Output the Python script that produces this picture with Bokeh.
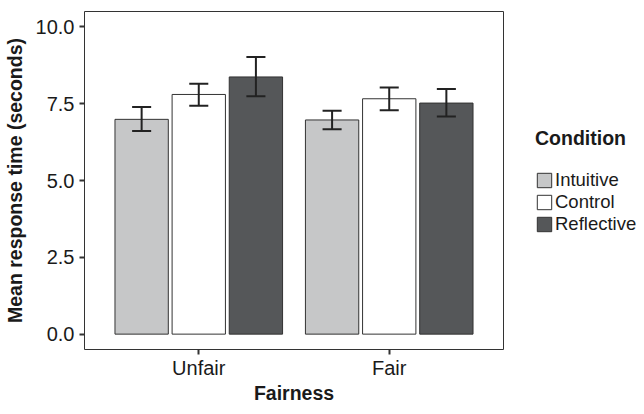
from bokeh.plotting import figure
from bokeh.layouts import row
from bokeh.models import (ColumnDataSource, FactorRange, Range1d, FixedTicker,
                          NumeralTickFormatter, Legend, LegendItem)
from bokeh.transform import dodge
from bokeh.embed import file_html
from bokeh.resources import INLINE

fairness = ["Unfair", "Fair"]
conditions = ["Intuitive", "Control", "Reflective"]
intuitive_mean = [6.99, 6.97]
intuitive_low = [6.61, 6.67]
intuitive_high = [7.39, 7.27]
control_mean = [7.80, 7.66]
control_low = [7.43, 7.29]
control_high = [8.15, 8.03]
reflective_mean = [8.37, 7.52]
reflective_low = [7.74, 7.08]
reflective_high = [9.02, 7.98]
y_ticks = [0, 2.5, 5, 7.5, 10]

series = [
    ("Intuitive", intuitive_mean, intuitive_low, intuitive_high, "#c6c7c8", -0.3),
    ("Control", control_mean, control_low, control_high, "#ffffff", 0.0),
    ("Reflective", reflective_mean, reflective_low, reflective_high, "#555759", 0.3),
]

FONT = "Liberation Sans"
TXT = "#1a1a1a"

p = figure(width=504, height=406,
           x_range=FactorRange(*fairness, range_padding=0.1, range_padding_units="absolute"),
           y_range=Range1d(-0.5, 10.5),
           output_backend="svg", toolbar_location=None,
           min_border_left=84, min_border_right=1, min_border_top=11, min_border_bottom=54)

sources = []
for name, m, lo, hi, color, off in series:
    src = ColumnDataSource(dict(f=fairness, m=m, lo=lo, hi=hi))
    sources.append(src)
    p.vbar(x=dodge("f", off, range=p.x_range), top="m", bottom=0, width=0.28, source=src,
           fill_color=color, line_color="#333333", line_width=1)
for (name, m, lo, hi, color, off), src in zip(series, sources):
    p.segment(x0=dodge("f", off, range=p.x_range), x1=dodge("f", off, range=p.x_range),
              y0="lo", y1="hi", source=src, line_color="#222222", line_width=2)
    p.segment(x0=dodge("f", off - 0.05, range=p.x_range), x1=dodge("f", off + 0.05, range=p.x_range),
              y0="lo", y1="lo", source=src, line_color="#222222", line_width=2)
    p.segment(x0=dodge("f", off - 0.05, range=p.x_range), x1=dodge("f", off + 0.05, range=p.x_range),
              y0="hi", y1="hi", source=src, line_color="#222222", line_width=2)

p.xgrid.visible = False
p.ygrid.visible = False
p.outline_line_color = "#333333"
p.outline_line_width = 1
p.background_fill_color = "white"

for ax in (p.xaxis[0], p.yaxis[0]):
    ax.axis_line_color = None
    ax.major_tick_line_color = "#333333"
    ax.major_tick_line_width = 2
    ax.major_tick_out = 5
    ax.major_tick_in = 0
    ax.minor_tick_line_color = None
    ax.major_label_text_font = FONT
    ax.major_label_text_font_size = "20px"
    ax.major_label_text_color = TXT
    ax.axis_label_text_font = FONT
    ax.axis_label_text_font_size = "19.5px"
    ax.axis_label_text_font_style = "bold"
    ax.axis_label_text_color = TXT

p.yaxis.ticker = FixedTicker(ticks=y_ticks)
p.yaxis.formatter = NumeralTickFormatter(format="0.0")
p.yaxis.axis_label = "Mean response time (seconds)"
p.yaxis.major_label_standoff = 5
p.yaxis.axis_label_standoff = 7
p.xaxis.axis_label = "Fairness"
p.xaxis.major_label_standoff = 2
p.xaxis.axis_label_standoff = 0

# legend panel (hidden renderers share the bar data so legend swatches are drawn)
q = figure(width=132, height=406,
           x_range=FactorRange(*fairness), y_range=Range1d(-0.5, 10.5),
           output_backend="svg", toolbar_location=None,
           x_axis_location=None, y_axis_location=None,
           min_border_left=0, min_border_right=0, min_border_top=0, min_border_bottom=0)
q.xgrid.visible = False
q.ygrid.visible = False
q.outline_line_color = None
items = []
for (name, m, lo, hi, color, off), src in zip(series, sources):
    r = q.vbar(x="f", top="m", bottom=0, width=0.28, source=src, visible=False,
               fill_color=color, line_color="#333333", line_width=1)
    items.append(LegendItem(label=name, renderers=[r], index=0))

legend = Legend(items=items, title="Condition", location=(31, 114),
                padding=0, margin=0, spacing=-13, glyph_width=18, glyph_height=18,
                label_standoff=2, title_standoff=19,
                border_line_color=None, background_fill_alpha=0)
legend.title_text_font = FONT
legend.title_text_font_style = "bold"
legend.title_text_font_size = "19.5px"
legend.title_text_color = TXT
legend.label_text_font = FONT
legend.label_text_font_size = "18.5px"
legend.label_text_color = TXT
q.add_layout(legend, "center")

layout = row(p, q, spacing=0)
open("out.html", "w").write(file_html(layout, INLINE))
